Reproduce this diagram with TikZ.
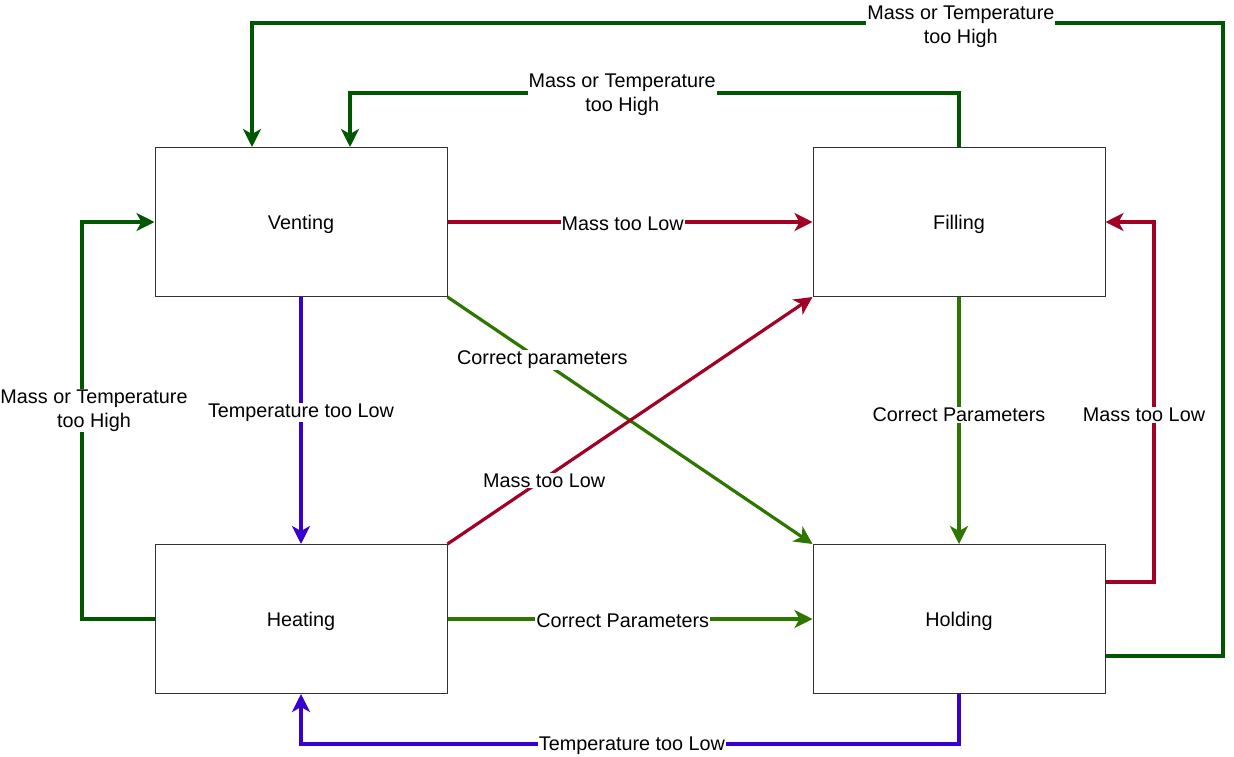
\documentclass[tikz,border=0pt]{standalone}
\usepackage{fontspec}
\setmainfont{Liberation Sans}
\usetikzlibrary{arrows.meta}
\definecolor{cred}{HTML}{A20025}
\definecolor{cblue}{HTML}{3700CC}
\definecolor{cgreen}{HTML}{2D7600}
\definecolor{cdgreen}{HTML}{005700}
\begin{document}
\begin{tikzpicture}[x=1pt,y=-1pt,
  state/.style={draw=black!80,line width=1pt,minimum width=292pt,minimum height=149pt,inner sep=0pt,font=\fontsize{19.8}{24}\selectfont,text depth=0pt,text height=14pt},
  conn/.style={line width=3.2pt,-{Stealth[length=18pt,width=18pt,inset=5pt]}},
  lbl/.style={fill=white,inner sep=1pt,font=\fontsize{19.8}{24}\selectfont,align=center,text=black,yshift=-2pt}]
\useasboundingbox (0,0) rectangle (1234,756);
\node[state] (vent) at (301,222) {Venting};
\node[state] (fill) at (959,222) {Filling};
\node[state] (heat) at (301,619) {Heating};
\node[state] (hold) at (959,619) {Holding};
\coordinate (c1) at (82,619);
\coordinate (c2) at (82,222);
\coordinate (c3) at (959,93);
\coordinate (c4) at (350,93);
\coordinate (c5) at (1154,582);
\coordinate (c6) at (1154,222);
\coordinate (c7) at (1223,656);
\coordinate (c8) at (1223,23);
\coordinate (c9) at (252,23);
\coordinate (c10) at (959,744);
\coordinate (c11) at (301,744);
% Venting -> Filling
\draw[conn,cred] (vent.east) -- node[lbl,pos=0.48]{Mass too Low} (fill.west);
% Venting -> Heating
\draw[conn,cblue] (vent.south) -- node[lbl,pos=0.46]{Temperature too Low} (heat.north);
% Venting -> Holding
\draw[conn,cgreen] (vent.south east) -- node[lbl,pos=0.26,above=-8pt]{Correct parameters} (hold.north west);
% Heating -> Filling
\draw[conn,cred] (heat.north east) -- node[lbl,pos=0.265]{Mass too Low} (fill.south west);
% Heating -> Holding
\draw[conn,cgreen] (heat.east) -- node[lbl,pos=0.48]{Correct Parameters} (hold.west);
% Heating -> Venting
\draw[conn,cdgreen] (heat.west) -- (c1) -- node[lbl,pos=0.53,xshift=12pt]{Mass or Temperature\\too High} (c2) -- (vent.west);
% Filling -> Venting
\draw[conn,cdgreen] (fill.north) -- (c3) -- node[lbl,pos=0.553]{Mass or Temperature\\too High} (c4) -- (vent.north -| c4);
% Filling -> Holding
\draw[conn,cgreen] (fill.south) -- node[lbl,pos=0.47]{Correct Parameters} (hold.north);
% Holding -> Filling
\draw[conn,cred] (hold.east |- c5) -- (c5) -- node[lbl,pos=0.47,xshift=-10pt]{Mass too Low} (c6) -- (fill.east);
% Holding -> Venting
\draw[conn,cdgreen] (hold.east |- c7) -- (c7) -- (c8) -- node[lbl,pos=0.27,yshift=-2pt]{Mass or Temperature\\too High} (c9) -- (vent.north -| c9);
% Holding -> Heating
\draw[conn,cblue] (hold.south) -- (c10) -- node[lbl,pos=0.497]{Temperature too Low} (c11) -- (heat.south);
\end{tikzpicture}
\end{document}
